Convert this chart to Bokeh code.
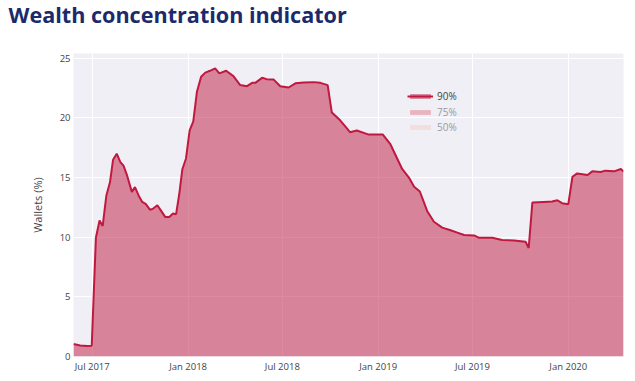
from datetime import datetime, timezone
from bokeh.plotting import figure
from bokeh.models import (ColumnDataSource, Range1d, DatetimeTickFormatter, MonthsTicker,
                          Legend, LegendItem, Title, LinearAxis, FixedTicker,
                          CustomJSTickFormatter)
from bokeh.embed import file_html
from bokeh.resources import INLINE

dates = [
    "2017-05-26", "2017-06-08", "2017-06-21", "2017-06-30", "2017-07-08", "2017-07-15",
    "2017-07-21", "2017-07-28", "2017-08-04", "2017-08-10", "2017-08-17", "2017-08-24",
    "2017-08-30", "2017-09-06", "2017-09-15", "2017-09-21", "2017-09-28", "2017-10-05",
    "2017-10-12", "2017-10-20", "2017-10-26", "2017-11-03", "2017-11-09", "2017-11-18",
    "2017-11-26", "2017-12-03", "2017-12-09", "2017-12-15", "2017-12-21", "2017-12-28",
    "2018-01-04", "2018-01-11", "2018-01-18", "2018-01-26", "2018-02-03", "2018-02-12",
    "2018-02-22", "2018-03-02", "2018-03-15", "2018-03-29", "2018-04-11", "2018-04-24",
    "2018-05-04", "2018-05-10", "2018-05-23", "2018-06-01", "2018-06-14", "2018-06-27",
    "2018-07-13", "2018-07-26", "2018-08-11", "2018-08-30", "2018-09-12", "2018-09-26",
    "2018-10-04", "2018-10-20", "2018-11-08", "2018-11-21", "2018-12-14", "2019-01-10",
    "2019-01-24", "2019-02-16", "2019-03-01", "2019-03-11", "2019-03-22", "2019-04-05",
    "2019-04-18", "2019-05-04", "2019-05-20", "2019-06-02", "2019-06-15", "2019-07-04",
    "2019-07-14", "2019-08-08", "2019-08-27", "2019-09-19", "2019-10-11", "2019-10-17",
    "2019-10-24", "2019-11-15", "2019-12-01", "2019-12-11", "2019-12-20", "2020-01-01",
    "2020-01-09", "2020-01-18", "2020-02-07", "2020-02-16", "2020-03-03", "2020-03-12",
    "2020-03-29", "2020-04-11", "2020-04-16",
]
pct90 = [
    1.05, 0.93, 0.88, 0.90, 9.95, 11.4,
    10.94, 13.47, 14.6, 16.5, 17.0, 16.3,
    16.0, 15.16, 13.8, 14.2, 13.5, 12.96,
    12.77, 12.29, 12.4, 12.68, 12.29, 11.7,
    11.7, 11.98, 11.93, 13.6, 15.7, 16.6,
    18.95, 19.7, 22.2, 23.45, 23.8, 23.95,
    24.15, 23.73, 23.95, 23.5, 22.75, 22.66,
    22.94, 22.94, 23.36, 23.25, 23.23, 22.66,
    22.55, 22.9, 22.97, 23.0, 22.94, 22.75,
    20.45, 19.8, 18.8, 18.95, 18.6, 18.6,
    17.83, 15.72, 15.0, 14.23, 13.83, 12.2,
    11.3, 10.8, 10.58, 10.38, 10.18, 10.15,
    9.95, 9.95, 9.76, 9.73, 9.62, 9.1,
    12.9, 12.96, 12.99, 13.1, 12.85, 12.77,
    15.07, 15.35, 15.22, 15.52, 15.47, 15.58,
    15.52, 15.72, 15.5,
]
# series shown only in the legend (hidden traces): no values visible in the chart
pct75 = [None]
pct50 = [None]
series_labels = ["90%", "75%", "50%"]
y_ticks = [0, 5, 10, 15, 20, 25]
title_text = "Wealth concentration indicator"

x = [datetime.strptime(d, "%Y-%m-%d") for d in dates]
src = ColumnDataSource(dict(x=x, y=pct90, y0=[0] * len(x)))

FONT = "Open Sans"
LINE = "#C0183F"

p = figure(width=635, height=376, output_backend="svg", toolbar_location=None,
           x_axis_type="datetime",
           x_range=Range1d(x[0], x[-1]), y_range=Range1d(0, 25.4),
           min_border_left=73, min_border_right=12, min_border_top=53, min_border_bottom=20)

xax = p.below[0]
yax = p.left[0]

# spacer panel between the frame and the title: one white tick (white on white), no label
end_ms = x[-1].replace(tzinfo=timezone.utc).timestamp() * 1000.0
spacer = LinearAxis(ticker=FixedTicker(ticks=[end_ms], minor_ticks=[]),
                    formatter=CustomJSTickFormatter(code="return ''"),
                    axis_line_color=None,
                    major_tick_line_color="white", minor_tick_line_color=None,
                    major_tick_out=27, major_tick_in=0, minor_tick_out=0,
                    major_label_standoff=0, major_label_text_font_size="1px",
                    major_label_text_color="white")
p.add_layout(spacer, "above")

p.title = Title(text=title_text, text_font=FONT, text_font_size="21.6px",
                text_font_style="bold", text_color="#1B2A6B", align="left",
                vertical_align="top", offset=-65, standoff=-8)

p.background_fill_color = "#EFEFF5"
p.border_fill_color = "white"
p.outline_line_color = None

r_fill = p.varea(x="x", y1="y0", y2="y", source=src, fill_color=LINE, fill_alpha=0.5)
r_line = p.line(x="x", y="y", source=src, line_color=LINE, line_width=2)

src75 = ColumnDataSource(dict(x=x[:1], y0=[0], y=pct75))
src50 = ColumnDataSource(dict(x=x[:1], y0=[0], y=pct50))
r75 = p.varea(x="x", y1="y0", y2="y", source=src75, fill_color="#E9B4BD", visible=False)
r50 = p.varea(x="x", y1="y0", y2="y", source=src50, fill_color="#F0DFDC", visible=False)

legend_specs = [
    (series_labels[0], [r_fill, r_line], 253, "#444444"),
    (series_labels[1], [r75], 237.5, "#9A9AA0"),
    (series_labels[2], [r50], 222, "#9A9AA0"),
]
for lab, rends, ypos, tcol in legend_specs:
    lg = Legend(items=[LegendItem(label=lab, renderers=rends)],
                location=(334, ypos), orientation="vertical",
                background_fill_alpha=0, border_line_alpha=0,
                padding=0, margin=0, spacing=0,
                glyph_width=26, glyph_height=6, label_height=13, label_standoff=4,
                label_text_font=FONT, label_text_font_size="10px", label_text_color=tcol,
                inactive_fill_alpha=0)
    p.add_layout(lg)

xax.ticker = MonthsTicker(months=[0, 6])
xax.formatter = DatetimeTickFormatter(months="%b %Y", days="%b %Y", years="%Y")
yax.ticker = y_ticks
yax.axis_label = "Wallets (%)"

for ax in (xax, yax):
    ax.axis_line_color = None
    ax.major_tick_line_color = None
    ax.minor_tick_line_color = None
    ax.major_tick_out = 0
    ax.major_tick_in = 0
    ax.major_label_text_font = FONT
    ax.major_label_text_font_size = "9.5px"
    ax.major_label_text_color = "#444444"
xax.major_label_standoff = 3
yax.major_label_standoff = 3
yax.axis_label_text_font = FONT
yax.axis_label_text_font_size = "11px"
yax.axis_label_text_font_style = "normal"
yax.axis_label_text_color = "#444444"
yax.axis_label_standoff = 12

p.xgrid.ticker = MonthsTicker(months=[0, 6])
p.ygrid.ticker = y_ticks
for g in (p.xgrid[0], p.ygrid[0]):
    g.grid_line_color = "white"
    g.grid_line_width = 1

open("out.html", "w").write(file_html(p, INLINE))
